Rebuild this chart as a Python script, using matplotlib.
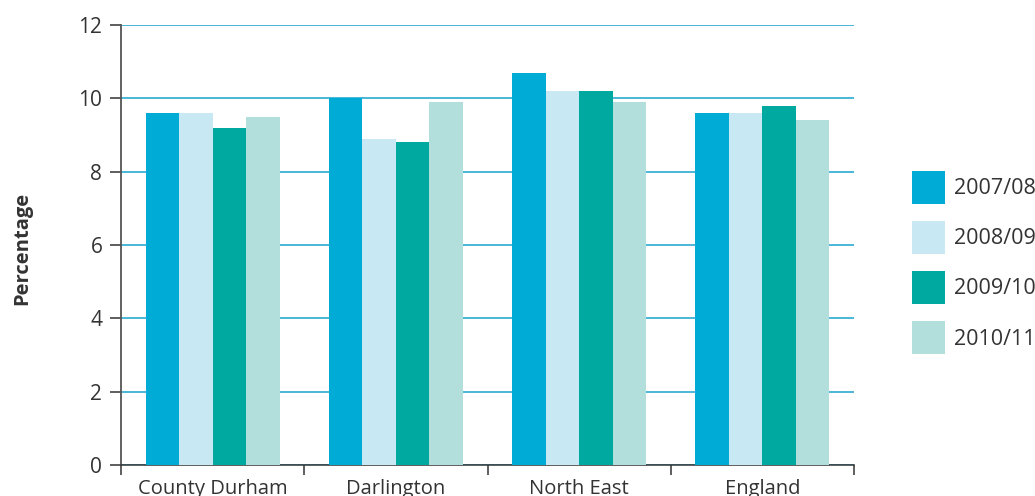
import numpy as np
import matplotlib
matplotlib.use("Agg")
import matplotlib.pyplot as plt
from matplotlib.patches import Patch

plt.rcParams['font.family'] = ['Open Sans', 'DejaVu Sans']

# Data
areas = ['County Durham', 'Darlington', 'North East', 'England']
years = ['2007/08', '2008/09', '2009/10', '2010/11']
y2007 = [9.6, 10.0, 10.7, 9.6]
y2008 = [9.6, 8.9, 10.2, 9.6]
y2009 = [9.2, 8.8, 10.2, 9.8]
y2010 = [9.5, 9.9, 9.9, 9.4]
series = [y2007, y2008, y2009, y2010]
colors = ['#00abd6', '#c8e9f3', '#00a9a0', '#b2dedc']

fig = plt.figure(figsize=(10.35, 4.96), dpi=100)
ax = fig.add_axes([121/1035, 31/496, 733/1035, 440/496])

x = np.arange(len(areas)) + 0.5
w = 0.183
for i, (vals, c) in enumerate(zip(series, colors)):
    ax.bar(x + (i - 1.5) * w, vals, width=w, color=c, zorder=3)

ax.set_xlim(0, 4)
ax.set_ylim(0, 12)
ax.set_yticks(range(0, 13, 2))
ax.yaxis.grid(True, color='#1aa2cb', linewidth=1.1, zorder=0)
ax.set_axisbelow(True)

for s in ['top', 'right']:
    ax.spines[s].set_visible(False)
ax.spines['left'].set_color('#555555')
ax.spines['left'].set_linewidth(1.3)
ax.spines['bottom'].set_color('#333333')
ax.spines['bottom'].set_linewidth(1.1)

ax.set_xticks(x)
ax.set_xticklabels(areas)
ax.set_xticks(np.arange(0, 5), minor=True)
ax.tick_params(axis='x', which='major', length=0, pad=10, labelsize=14.5, labelcolor='#333333')
ax.tick_params(axis='x', which='minor', length=7.2, width=1.1, color='#333333')
ax.tick_params(axis='y', length=8, width=1.1, color='#333333', labelsize=15, labelcolor='#333333', pad=5.5)

fig.text(22/1035, 0.5, 'Percentage', rotation=90, ha='center', va='center',
         fontsize=14.5, fontweight='bold', color='#333333')

handles = [Patch(facecolor=c, edgecolor='none') for c in colors]
fig.legend(handles, years, loc='upper left', bbox_to_anchor=(912/1035, 1 - 171/496),
           frameon=False, borderpad=0, borderaxespad=0, fontsize=15.5,
           handlelength=1.53, handleheight=1.985, labelspacing=0.79,
           handletextpad=0.42, labelcolor='#333333')

fig.savefig('out.png', dpi=100)
